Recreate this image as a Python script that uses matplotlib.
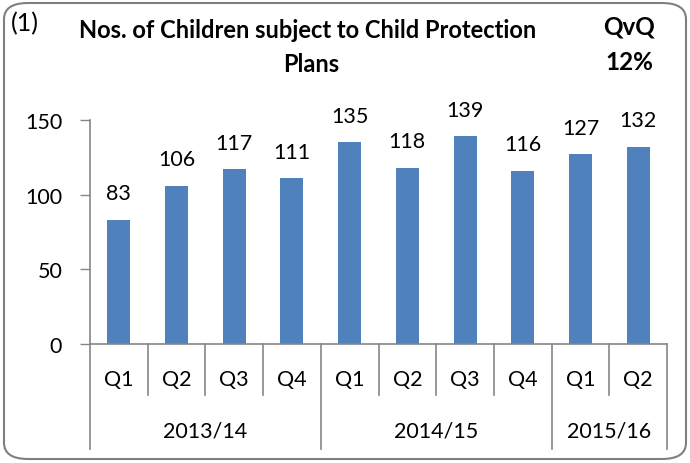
import matplotlib
matplotlib.use("Agg")
import matplotlib.pyplot as plt
from matplotlib.patches import FancyBboxPatch
from matplotlib.lines import Line2D

quarters = ["Q1", "Q2", "Q3", "Q4", "Q1", "Q2", "Q3", "Q4", "Q1", "Q2"]
values = [83, 106, 117, 111, 135, 118, 139, 116, 127, 132]
years = ["2013/14", "2014/15", "2015/16"]
year_sizes = [4, 4, 2]
yticks = [0, 50, 100, 150]

plt.rcParams['font.family'] = ['Lato', 'DejaVu Sans']
W, H = 690, 464
fig = plt.figure(figsize=(W / 100, H / 100), dpi=100)

# rounded border
border = FancyBboxPatch((4 / W, 4 / H), (W - 8) / W, (H - 8) / H,
                        boxstyle="round,pad=0,rounding_size=0.035",
                        transform=fig.transFigure, fill=False,
                        edgecolor="#7f7f7f", linewidth=1.5)
fig.patches.append(border)

x0, x1 = 90, 667
y0, y1 = 345, 121
ax = fig.add_axes([x0 / W, 1 - y0 / H, (x1 - x0) / W, (y0 - y1) / H])
n = len(values)
xs = list(range(n))
ax.bar(xs, values, width=0.4, color="#4F81BD")
ax.set_xlim(-0.5, n - 0.5)
ax.set_ylim(0, 150)
ax.set_yticks(yticks)
ax.set_yticklabels([str(t) for t in yticks], fontsize=15.5)
ax.tick_params(axis='y', length=7, color="#868686", width=1, pad=13)
ax.set_xticks([])
for s in ["top", "right"]:
    ax.spines[s].set_visible(False)
for s in ["left", "bottom"]:
    ax.spines[s].set_color("#868686")
    ax.spines[s].set_linewidth(1.2)

for x, v in zip(xs, values):
    ax.annotate(str(v), (x, v), xytext=(0, 12), textcoords="offset points",
                ha="center", va="bottom", fontsize=15.5)

# category axis
trans = ax.get_xaxis_transform()
def fy(py):
    # pixel y -> axes fraction
    return (y0 - py) / (y0 - y1)

q_bottom = fy(396)
y_bottom = fy(450)
for i, q in enumerate(quarters):
    ax.text(i, fy(380), q, transform=trans, ha="center", va="center", fontsize=15.5)
boundaries = [0]
for s in year_sizes:
    boundaries.append(boundaries[-1] + s)
for i in range(n + 1):
    xb = i - 0.5
    bottom = y_bottom if i in boundaries else q_bottom
    ax.add_line(Line2D([xb, xb], [0, bottom], transform=trans, color="#868686",
                       linewidth=1.2, clip_on=False))
for yr, a, b in zip(years, boundaries[:-1], boundaries[1:]):
    ax.text((a + b - 1) / 2, fy(432), yr, transform=trans, ha="center",
            va="center", fontsize=15.5)

# titles
fig.text(308 / W, 1 - 31 / H, "Nos. of Children subject to Child Protection",
         ha="center", va="center", fontsize=17, fontweight="bold")
fig.text(311 / W, 1 - 65 / H, "Plans", ha="center", va="center",
         fontsize=17, fontweight="bold")
fig.text(11 / W, 1 - 24 / H, "(1)", ha="left", va="center", fontsize=18)
fig.text(629 / W, 1 - 27 / H, "QvQ", ha="center", va="center",
         fontsize=17.5, fontweight="bold")
fig.text(629 / W, 1 - 62 / H, "12%", ha="center", va="center",
         fontsize=17.5, fontweight="bold")

fig.savefig("out.png", dpi=100)
